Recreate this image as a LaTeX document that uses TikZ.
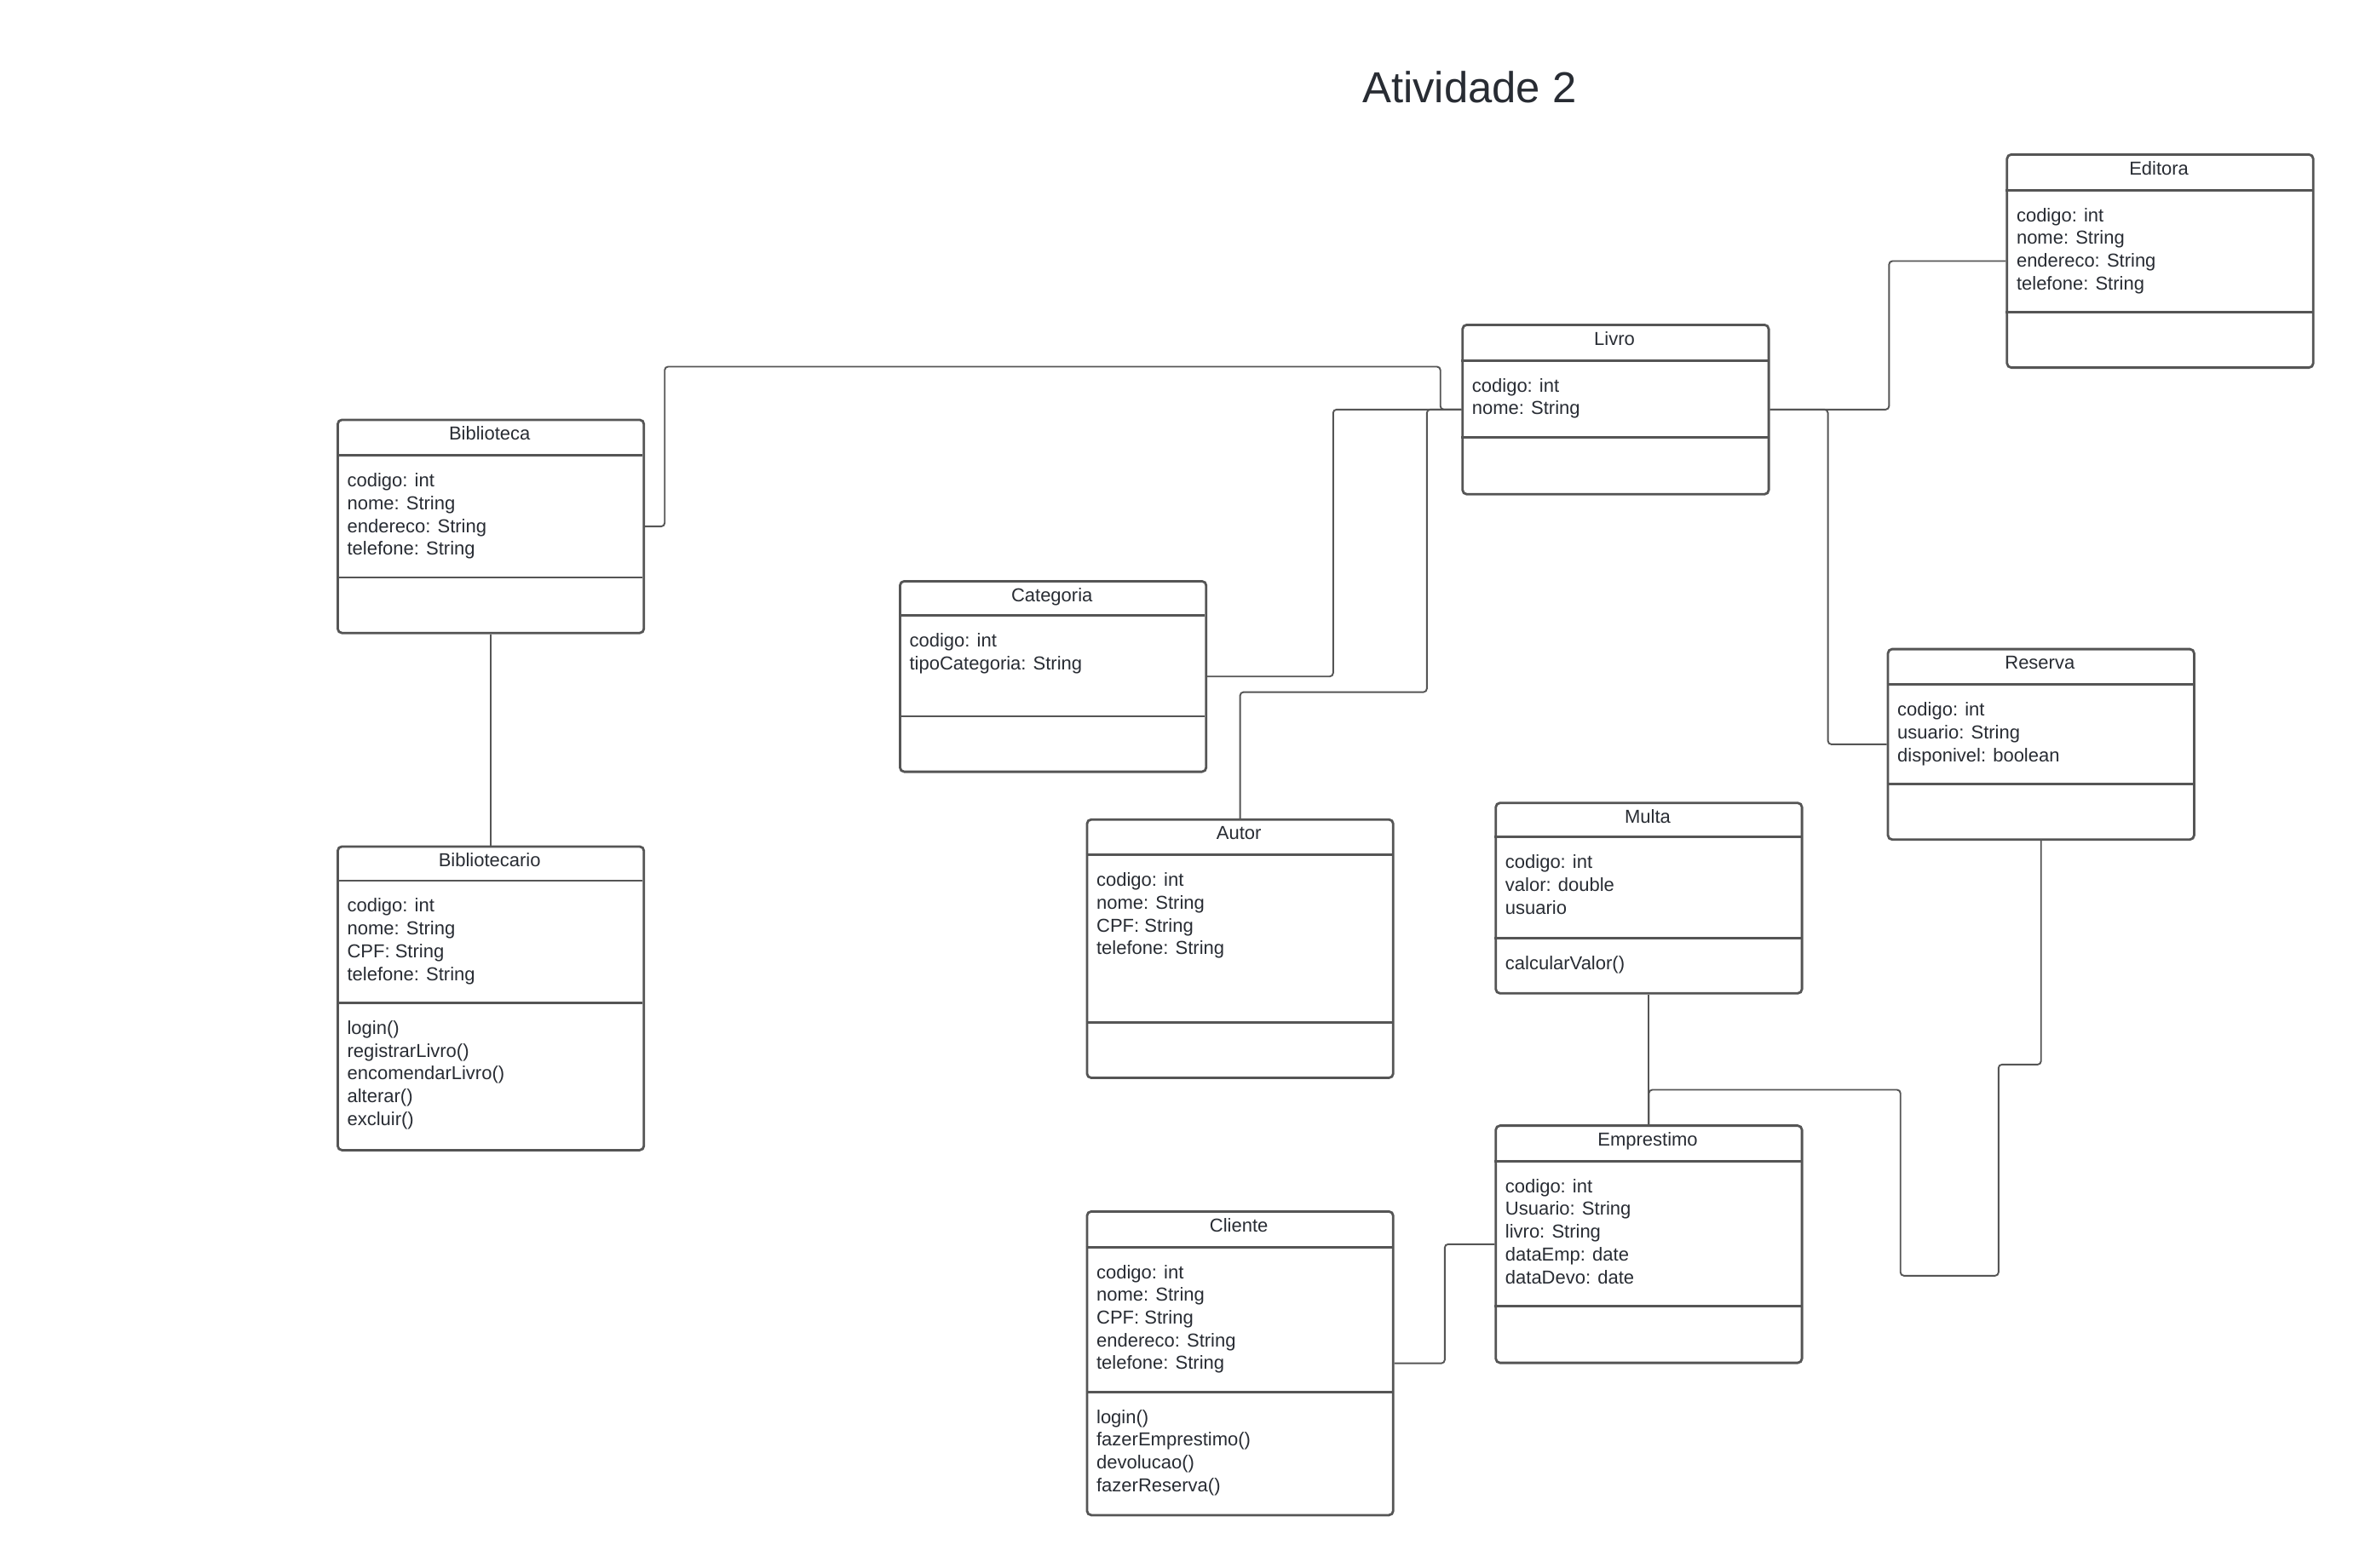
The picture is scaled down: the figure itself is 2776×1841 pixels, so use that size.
\documentclass[tikz,border=0pt]{standalone}
\usepackage{fontspec}
\setmainfont{Liberation Sans}
\definecolor{ln}{HTML}{555555}
\definecolor{tx}{HTML}{282C33}
\tikzset{
  cls/.style={draw=ln, line width=2.8pt, rounded corners=5pt, minimum width=359.4pt, inner sep=0pt},
  sepline/.style={draw=ln, line width=2.8pt},
  conn/.style={draw=ln, line width=1.9pt, rounded corners=4pt},
  txt/.style={text=tx, inner sep=0pt, font=\fontsize{22}{26.7}\selectfont},
  titletxt/.style={text=tx, inner sep=0pt, font=\fontsize{50.8}{60}\selectfont}
}
% name, x1, y1, y2, header line y, separator y, title, attributes, methods
\newcommand\umlbox[9]{%
  \node[cls, anchor=north west, minimum height={(#4-#3)*1pt}] (#1) at (#2,-#3) {};
  \draw[sepline] (#2,-#5) -- ++(359.4,0);
  \draw[sepline] (#2,-#6) -- ++(359.4,0);
  \node[txt, anchor=base] (#1-t) at ({#2+179.7},{-#3-25}) {#7};
  \foreach \t [count=\i] in {#8} {
    \node[txt, anchor=base west] (#1-a\i) at ({#2+12.4},{-#5-37-(\i-1)*26.7}) {\t};
  }
  \if\relax\detokenize{#9}\relax\else
  \foreach \t [count=\i] in {#9} {
    \node[txt, anchor=base west] (#1-m\i) at ({#2+12.4},{-#6-37-(\i-1)*26.7}) {\t};
  }
  \fi
}
\begin{document}
\begin{tikzpicture}[x=1pt,y=1pt]
\useasboundingbox (0,0) rectangle (2776,-1841);
\fill[white] (0,0) rectangle (2776,-1841);

\node[titletxt, anchor=base west] (title) at (1599,-120.7) {Atividade 2};

\umlbox{bib}{395}{491.5}{741.8}{534.7}{678}{Biblioteca}{codigo: int, nome: String, endereco: String, telefone: String}{}
\umlbox{bibl}{395}{992.5}{1349}{1033.9}{1177.3}{Bibliotecario}{codigo: int, nome: String, CPF: String, telefone: String}{login(), registrarLivro(), encomendarLivro(), alterar(), excluir()}
\umlbox{cat}{1055}{681}{904.7}{722.3}{841}{Categoria}{codigo: int, tipoCategoria: String}{}
\umlbox{autor}{1274.5}{960.8}{1264.1}{1003.8}{1200.3}{Autor}{codigo: int, nome: String, CPF: String, telefone: String}{}
\umlbox{cli}{1274.5}{1421}{1777.5}{1464.1}{1634.1}{Cliente}{codigo: int, nome: String, CPF: String, endereco: String, telefone: String}{login(), fazerEmprestimo(), devolucao(), fazerReserva()}
\umlbox{livro}{1715.3}{380}{578.9}{423.1}{513.4}{Livro}{codigo: int, nome: String}{}
\umlbox{multa}{1754.3}{941.3}{1164.9}{982.6}{1101.2}{Multa}{codigo: int, valor: double, usuario}{calcularValor()}
\umlbox{emp}{1754.3}{1320.2}{1598.7}{1363.2}{1533.2}{Emprestimo}{codigo: int, Usuario: String, livro: String, dataEmp: date, dataDevo: date}{}
\umlbox{res}{2214.6}{760.7}{984.3}{803.8}{920.6}{Reserva}{codigo: int, usuario: String, disponivel: boolean}{}
\umlbox{edi}{2354.4}{180}{430.2}{223.1}{366.5}{Editora}{codigo: int, nome: String, endereco: String, telefone: String}{}

% connectors
\draw[conn] (bib.east) -- ++(23,0) |- (1690.7,-430.5) |- (livro.west);
\draw[conn] (cat.east) -| ([xshift=-150.5pt]livro.west) -- (livro.west);
\draw[conn] (autor.north) |- (1674.8,-812.6) |- (livro.west);
\draw[conn] (livro.east) -- ++(139.8,0) |- (edi.west);
\draw[conn] (livro.east) -| ([xshift=-69pt]res.west) -- (res.west);
\draw[conn] (bib.south) -- (bibl.north);
\draw[conn] (multa.south) -- (emp.north);
\draw[conn] (res.south) |- (2345.8,-1249.9) |- (2230.7,-1497.8) |- ([yshift=40.7pt]emp.north) -- (emp.north);
\draw[conn] (cli.east) -| ([xshift=-58.5pt]emp.west) -- (emp.west);
\end{tikzpicture}
\end{document}
